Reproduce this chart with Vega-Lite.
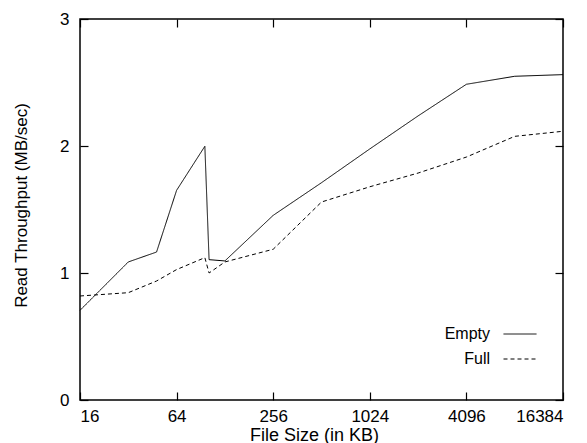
{
  "$schema": "https://vega.github.io/schema/vega-lite/v6.json",
  "width": 483,
  "height": 381,
  "autosize": "none",
  "padding": {"left": 80, "top": 19, "right": 24, "bottom": 43},
  "background": "white",
  "data": {
    "values": [
      {"size": 16, "tp": 0.706, "series": "Empty"},
      {"size": 32, "tp": 1.087, "series": "Empty"},
      {"size": 48, "tp": 1.165, "series": "Empty"},
      {"size": 64, "tp": 1.651, "series": "Empty"},
      {"size": 96, "tp": 1.998, "series": "Empty"},
      {"size": 102, "tp": 1.105, "series": "Empty"},
      {"size": 128, "tp": 1.095, "series": "Empty"},
      {"size": 256, "tp": 1.454, "series": "Empty"},
      {"size": 512, "tp": 1.711, "series": "Empty"},
      {"size": 1024, "tp": 1.977, "series": "Empty"},
      {"size": 2048, "tp": 2.237, "series": "Empty"},
      {"size": 4096, "tp": 2.486, "series": "Empty"},
      {"size": 8192, "tp": 2.549, "series": "Empty"},
      {"size": 16384, "tp": 2.562, "series": "Empty"},
      {"size": 16, "tp": 0.819, "series": "Full"},
      {"size": 32, "tp": 0.845, "series": "Full"},
      {"size": 48, "tp": 0.937, "series": "Full"},
      {"size": 64, "tp": 1.027, "series": "Full"},
      {"size": 96, "tp": 1.121, "series": "Full"},
      {"size": 102, "tp": 1.0, "series": "Full"},
      {"size": 128, "tp": 1.087, "series": "Full"},
      {"size": 256, "tp": 1.187, "series": "Full"},
      {"size": 512, "tp": 1.559, "series": "Full"},
      {"size": 1024, "tp": 1.679, "series": "Full"},
      {"size": 2048, "tp": 1.787, "series": "Full"},
      {"size": 4096, "tp": 1.913, "series": "Full"},
      {"size": 8192, "tp": 2.076, "series": "Full"},
      {"size": 16384, "tp": 2.116, "series": "Full"}
    ]
  },
  "layer": [
    {
      "mark": {"type": "line", "color": "black", "strokeWidth": 1},
      "encoding": {
        "x": {
          "field": "size",
          "type": "quantitative",
          "scale": {"type": "log", "base": 2, "domain": [16, 16384], "nice": false},
          "title": "File Size (in KB)",
          "axis": {
            "orient": "bottom",
            "values": [16, 64, 256, 1024, 4096, 16384],
            "format": "d",
            "tickSize": -8,
            "labelPadding": 16,
            "titleX": 234,
            "titleY": 26,
            "titleBaseline": "top",
            "titleFontSize": 18,
            "grid": false
          }
        },
        "y": {
          "field": "tp",
          "type": "quantitative",
          "scale": {"domain": [0, 3], "nice": false},
          "title": "Read Throughput (MB/sec)",
          "axis": {
            "orient": "left",
            "values": [0, 1, 2, 3],
            "tickSize": -8,
            "labelPadding": 19,
            "titleX": -59,
            "titleY": 186,
            "titleBaseline": "middle",
            "grid": false
          }
        },
        "strokeDash": {
          "field": "series",
          "type": "nominal",
          "scale": {"domain": ["Empty", "Full"], "range": [[1, 0], [4, 3]]},
          "legend": {
            "orient": "none",
            "legendX": 423,
            "legendY": 298,
            "title": null,
            "symbolType": "stroke",
            "symbolSize": 1089,
            "symbolStrokeColor": "black",
            "symbolStrokeWidth": 1,
            "labelAlign": "right",
            "labelOffset": -47,
            "rowPadding": -30,
            "labelFontSize": 16,
            "labelColor": "black"
          }
        }
      }
    },
    {
      "mark": {"type": "line", "opacity": 0},
      "encoding": {
        "x": {
          "field": "size",
          "type": "quantitative",
          "axis": {
            "orient": "top",
            "values": [16, 64, 256, 1024, 4096, 16384],
            "labels": false,
            "title": null,
            "tickSize": -8,
            "grid": false
          }
        },
        "y": {
          "field": "tp",
          "type": "quantitative",
          "axis": {
            "orient": "right",
            "values": [0, 1, 2, 3],
            "labels": false,
            "title": null,
            "tickSize": -8,
            "grid": false
          }
        },
        "detail": {"field": "series", "type": "nominal"}
      }
    }
  ],
  "resolve": {"axis": {"x": "independent", "y": "independent"}},
  "config": {
    "font": "Liberation Sans",
    "view": {"stroke": "black", "strokeWidth": 1.5},
    "axis": {
      "domain": false,
      "tickColor": "black",
      "tickWidth": 1.2,
      "labelFont": "Liberation Sans",
      "labelFontSize": 17,
      "labelColor": "black",
      "titleFont": "Liberation Sans",
      "titleFontSize": 17,
      "titleFontWeight": "normal",
      "titleColor": "black"
    },
    "legend": {"labelFont": "Liberation Sans"}
  }
}
